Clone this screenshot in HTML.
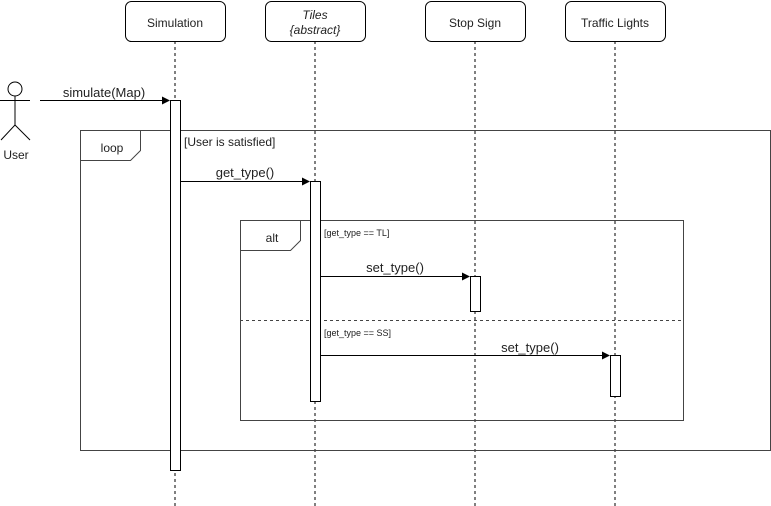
<!DOCTYPE html>
<html><head><style>body{margin:0;background:#fff}svg{display:block}</style></head><body>
<svg width="771" height="506" xmlns="http://www.w3.org/2000/svg" font-family="Liberation Sans, sans-serif" font-size="12">
<g stroke="#000" fill="none">
<line x1="175" y1="41" x2="175" y2="506" stroke-dasharray="3,3"/>
<line x1="315" y1="41" x2="315" y2="506" stroke-dasharray="3,3"/>
<line x1="475" y1="41" x2="475" y2="506" stroke-dasharray="3,3"/>
<line x1="615" y1="41" x2="615" y2="506" stroke-dasharray="3,3"/>
<rect x="125.5" y="1.5" width="100" height="40" rx="6" fill="#fff"/>
<rect x="265.5" y="1.5" width="100" height="40" rx="6" fill="#fff"/>
<rect x="425.5" y="1.5" width="100" height="40" rx="6" fill="#fff"/>
<rect x="565.5" y="1.5" width="100" height="40" rx="6" fill="#fff"/>
<circle cx="15" cy="89" r="7"/>
<line x1="15" y1="96" x2="15" y2="125"/>
<line x1="0" y1="100.5" x2="30" y2="100.5"/>
<line x1="15" y1="125" x2="1" y2="140"/><line x1="15" y1="125" x2="30" y2="140"/>
<rect x="80.5" y="130.5" width="690" height="320" stroke="#444"/>
<path d="M80.5 160.5H130.5L140.5 150.5V130.5" stroke="#444"/>
<rect x="240.5" y="220.5" width="443" height="200" stroke="#444"/>
<path d="M240.5 250.5H290.5L300.5 240.5V220.5" stroke="#444"/>
<line x1="240" y1="320.5" x2="683" y2="320.5" stroke="#444" stroke-dasharray="3,3"/>
<rect x="170.5" y="100.5" width="10" height="370" fill="#fff"/>
<rect x="310.5" y="181.5" width="10" height="220" fill="#fff"/>
<rect x="470.5" y="276.5" width="10" height="35" fill="#fff"/>
<rect x="610.5" y="355.5" width="10" height="41" fill="#fff"/>
<line x1="40" y1="100.5" x2="164" y2="100.5"/>
<line x1="180" y1="181.5" x2="304" y2="181.5"/>
<line x1="320" y1="276.5" x2="464" y2="276.5"/>
<line x1="320" y1="355.5" x2="604" y2="355.5"/>
</g>
<g fill="#000">
<path d="M170 100.5l-8-4v8z"/><path d="M310 181.5l-8-4v8z"/><path d="M470 276.5l-8-4v8z"/><path d="M610 355.5l-8-4v8z"/>
</g>
<g fill="#222" text-anchor="middle">
<text x="175" y="27">Simulation</text>
<text x="315" y="19" font-style="italic">Tiles</text>
<text x="315" y="34" font-style="italic">{abstract}</text>
<text x="475" y="27">Stop Sign</text>
<text x="615" y="27">Traffic Lights</text>
<text x="16" y="159">User</text>
<text x="104" y="97" font-size="13">simulate(Map)</text>
<text x="245" y="177" font-size="13">get_type()</text>
<text x="395" y="272" font-size="13">set_type()</text>
<text x="530" y="352" font-size="13">set_type()</text>
<text x="112" y="152">loop</text>
<text x="272" y="242">alt</text>
</g>
<text x="184" y="146" fill="#222">[User is satisfied]</text>
<text x="324" y="236" font-size="9" fill="#222">[get_type == TL]</text>
<text x="324" y="336" font-size="9" fill="#222">[get_type == SS]</text>
</svg>
</body></html>
